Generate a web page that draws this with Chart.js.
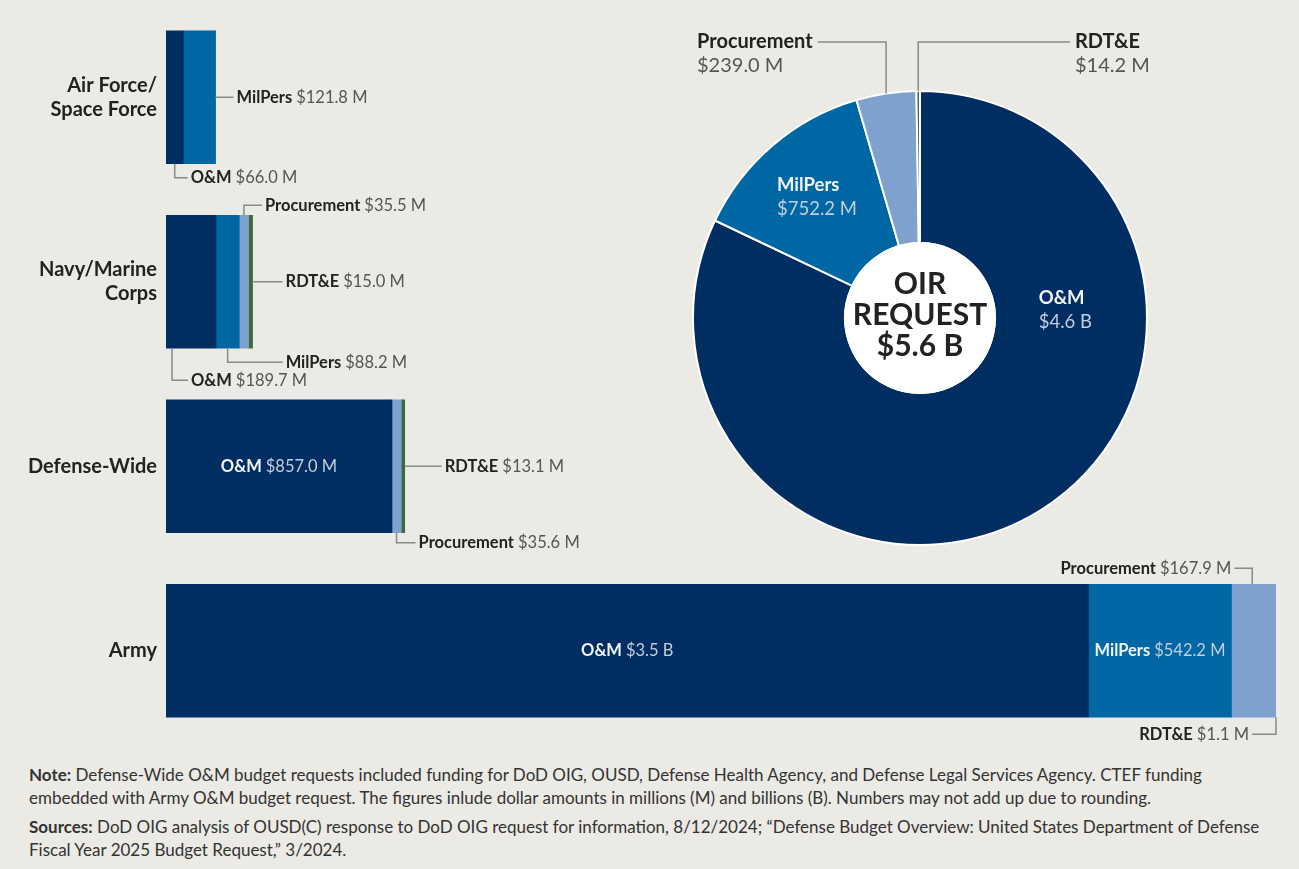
<!DOCTYPE html>
<html lang="en">
<head>
    <meta charset="UTF-8">
    <meta name="viewport" content="width=device-width, initial-scale=1.0">
    <title>OIR Budget Request by Component</title>
    <script src="https://cdn.jsdelivr.net/npm/chart.js"></script>
    <style>
        body { margin: 0; background: #ebeae4; font-family: Lato, sans-serif; }
        .page { position: relative; width: 1299px; height: 869px; overflow: hidden; }
        #barBox { position: absolute; left: 0; top: 0; width: 1299px; height: 750px; }
        #pieBox { position: absolute; left: 680px; top: 20px; width: 480px; height: 530px; }
        .notes { position: absolute; left: 29px; top: 763px; font-size: 17px; color: #333; line-height: 23px; white-space: nowrap; }
        .notes p { margin: 0 0 6px 0; }
    </style>
</head>
<body>
<div class="page">
    <div id="barBox"><canvas id="barChart"></canvas></div>
    <div id="pieBox"><canvas id="pieChart"></canvas></div>
    <div class="notes">
        <p><b>Note:</b> Defense-Wide O&amp;M budget requests included funding for DoD OIG, OUSD, Defense Health Agency, and Defense Legal Services Agency. CTEF funding<br>embedded with Army O&amp;M budget request. The figures inlude dollar amounts in millions (M) and billions (B). Numbers may not add up due to rounding.</p>
        <p><b>Sources:</b> DoD OIG analysis of OUSD(C) response to DoD OIG request for information, 8/12/2024; “Defense Budget Overview: United States Department of Defense<br>Fiscal Year 2025 Budget Request,” 3/2024.</p>
    </div>
</div>

<script>
// data (millions of dollars)
const categories = [['Air Force/', 'Space Force'], ['Navy/Marine', 'Corps'], ['Defense-Wide'], ['Army']];
const segments = ['O&M', 'MilPers', 'Procurement', 'RDT&E'];
const omValues = [66.0, 189.7, 857.0, 3500];
const milPersValues = [121.8, 88.2, 0, 542.2];
const procurementValues = [0, 35.5, 35.6, 167.9];
const rdteValues = [0, 15.0, 13.1, 1.1];

const oirSegments = ['O&M', 'MilPers', 'Procurement', 'RDT&E'];
const oirValues = [4600, 752.2, 239.0, 14.2];

const colors = ['#002d62', '#0067a5', '#7fa1cd', '#3b6b3f'];
const series = [omValues, milPersValues, procurementValues, rdteValues];

function money(v) {
    return v >= 1000 ? '$' + (v / 1000).toFixed(1) + ' B' : '$' + v.toFixed(1) + ' M';
}

// where each bar label goes: side of the segment, anchor fraction along it, elbow and run in px
const barLabels = [
    { cat: 0, ds: 0, side: 'bottom', frac: 0.5, elbow: 14, run: 13 },
    { cat: 0, ds: 1, side: 'right', run: 18 },
    { cat: 1, ds: 2, side: 'top', frac: 0.5, elbow: 10, run: 18 },
    { cat: 1, ds: 3, side: 'right', run: 30 },
    { cat: 1, ds: 1, side: 'bottom', frac: 0.5, elbow: 14, run: 55 },
    { cat: 1, ds: 0, side: 'bottom', frac: 0.12, elbow: 32, run: 16 },
    { cat: 2, ds: 0, side: 'inside' },
    { cat: 2, ds: 3, side: 'right', run: 37 },
    { cat: 2, ds: 2, side: 'bottom', frac: 0.5, elbow: 10, run: 19 },
    { cat: 3, ds: 0, side: 'inside' },
    { cat: 3, ds: 1, side: 'inside' },
    { cat: 3, ds: 2, side: 'top', frac: 0.47, elbow: 16, run: -18 },
    { cat: 3, ds: 3, side: 'bottom', frac: 1, elbow: 17, run: -24 }
];

const FONT = 'Lato, sans-serif';

// draws "Name $value" starting (or ending) at x
function nameValue(ctx, name, value, x, y, size, align, nameColor, valueColor) {
    ctx.textBaseline = 'middle';
    ctx.font = 'bold ' + size + 'px ' + FONT;
    const wName = ctx.measureText(name + ' ').width;
    ctx.font = size + 'px ' + FONT;
    const wVal = ctx.measureText(value).width;
    let start = x;
    if (align === 'right') start = x - wName - wVal;
    if (align === 'center') start = x - (wName + wVal) / 2;
    ctx.textAlign = 'left';
    ctx.font = 'bold ' + size + 'px ' + FONT;
    ctx.fillStyle = nameColor;
    ctx.fillText(name, start, y);
    ctx.font = size + 'px ' + FONT;
    ctx.fillStyle = valueColor;
    ctx.fillText(value, start + wName, y);
}

const barText = {
    id: 'barText',
    afterDatasetsDraw(chart) {
        const ctx = chart.ctx;
        const yScale = chart.scales.y;
        ctx.save();

        // category names
        ctx.fillStyle = '#222';
        ctx.font = 'bold 20px ' + FONT;
        ctx.textAlign = 'right';
        ctx.textBaseline = 'middle';
        categories.forEach((lines, i) => {
            const yc = yScale.getPixelForValue(i);
            lines.forEach((t, k) => {
                ctx.fillText(t, 157, yc + (k - (lines.length - 1) / 2) * 24);
            });
        });

        ctx.strokeStyle = '#8a8a86';
        ctx.lineWidth = 1.5;
        barLabels.forEach(l => {
            const bar = chart.getDatasetMeta(l.ds).data[l.cat];
            const left = Math.min(bar.base, bar.x), right = Math.max(bar.base, bar.x);
            const top = bar.y - bar.height / 2, bottom = bar.y + bar.height / 2;
            const name = segments[l.ds];
            const value = money(series[l.ds][l.cat]);

            if (l.side === 'inside') {
                nameValue(ctx, name, value, (left + right) / 2, bar.y, 16.5, 'center', '#f2f4f8', '#c3cedd');
                return;
            }
            let ax, ay, ey;
            if (l.side === 'right') {
                ax = right; ay = bar.y; ey = bar.y;
            } else {
                ax = left + (right - left) * l.frac;
                ay = l.side === 'top' ? top : bottom;
                ey = l.side === 'top' ? top - l.elbow : bottom + l.elbow;
            }
            ctx.beginPath();
            ctx.moveTo(ax, ay);
            ctx.lineTo(ax, ey);
            ctx.lineTo(ax + l.run, ey);
            ctx.stroke();
            const tx = l.run >= 0 ? ax + l.run + 3 : ax + l.run - 3;
            nameValue(ctx, name, value, tx, ey, 16.5, l.run >= 0 ? 'left' : 'right', '#222', '#555');
        });
        ctx.restore();
    }
};

const totals = categories.map((c, i) => series.reduce((s, arr) => s + arr[i], 0));

new Chart(document.getElementById('barChart'), {
    type: 'bar',
    data: {
        labels: categories,
        datasets: series.map((vals, i) => ({
            label: segments[i],
            data: vals,
            backgroundColor: colors[i],
            borderWidth: 0,
            barThickness: 133
        }))
    },
    options: {
        indexAxis: 'y',
        responsive: true,
        maintainAspectRatio: false,
        animation: false,
        layout: { padding: { left: 166, right: 23, top: 5, bottom: 7 } },
        scales: {
            x: { stacked: true, display: false, min: 0, max: Math.max(...totals) },
            y: { stacked: true, display: false }
        },
        plugins: { legend: { display: false }, tooltip: { enabled: false } }
    },
    plugins: [barText]
});

// label layout for the doughnut (angle in degrees from 12 o'clock, null = middle of slice)
const pieInside = [
    { index: 0, angle: 87, r: 0.7 },
    { index: 1, angle: null, r: 0.7 }
];
const pieOutside = [
    { index: 2, textX: 17, lineY: 22, side: 'left' },
    { index: 3, textX: 395, lineY: 22, side: 'right' }
];

const pieText = {
    id: 'pieText',
    afterDatasetsDraw(chart) {
        const ctx = chart.ctx;
        const arcs = chart.getDatasetMeta(0).data;
        const cx = arcs[0].x, cy = arcs[0].y;
        const R = arcs[0].outerRadius, r0 = arcs[0].innerRadius;
        ctx.save();

        // white hole + total
        ctx.fillStyle = '#ffffff';
        ctx.beginPath();
        ctx.arc(cx, cy, r0 + 1, 0, Math.PI * 2);
        ctx.fill();
        const total = oirValues.reduce((a, b) => a + b, 0);
        ctx.fillStyle = '#222';
        ctx.font = 'bold 30px ' + FONT;
        ctx.textAlign = 'center';
        ctx.textBaseline = 'middle';
        ['OIR', 'REQUEST', money(total)].forEach((t, k) => ctx.fillText(t, cx, cy - 34 + k * 31));

        const mid = a => (a.startAngle + a.endAngle) / 2;

        pieInside.forEach(l => {
            const a = arcs[l.index];
            const ang = l.angle === null ? mid(a) : (l.angle - 90) * Math.PI / 180;
            const x = cx + Math.cos(ang) * R * l.r;
            const y = cy + Math.sin(ang) * R * l.r;
            ctx.textAlign = 'left';
            ctx.font = 'bold 18.5px ' + FONT;
            ctx.fillStyle = '#f2f4f8';
            ctx.fillText(oirSegments[l.index], x - 40, y - 12);
            ctx.font = '18.5px ' + FONT;
            ctx.fillStyle = '#c3cedd';
            ctx.fillText(money(oirValues[l.index]), x - 40, y + 12);
        });

        ctx.strokeStyle = '#8a8a86';
        ctx.lineWidth = 1.5;
        pieOutside.forEach(l => {
            const a = arcs[l.index];
            const px = cx + Math.cos(mid(a)) * R;
            const py = cy + Math.sin(mid(a)) * R;
            ctx.font = 'bold 20px ' + FONT;
            const w = ctx.measureText(oirSegments[l.index]).width;
            const lineEnd = l.side === 'left' ? l.textX + w + 5 : l.textX - 5;
            ctx.beginPath();
            ctx.moveTo(lineEnd, l.lineY);
            ctx.lineTo(px, l.lineY);
            ctx.lineTo(px, py);
            ctx.stroke();
            ctx.textAlign = 'left';
            ctx.textBaseline = 'middle';
            ctx.fillStyle = '#222';
            ctx.fillText(oirSegments[l.index], l.textX, l.lineY);
            ctx.font = '20px ' + FONT;
            ctx.fillStyle = '#555';
            ctx.fillText(money(oirValues[l.index]), l.textX, l.lineY + 24);
        });
        ctx.restore();
    }
};

new Chart(document.getElementById('pieChart'), {
    type: 'doughnut',
    data: {
        labels: oirSegments,
        datasets: [{
            data: oirValues,
            backgroundColor: colors,
            borderColor: '#ffffff',
            borderWidth: 2
        }]
    },
    options: {
        responsive: true,
        maintainAspectRatio: false,
        animation: false,
        cutout: '33%',
        layout: { padding: { top: 70, bottom: 4 } },
        plugins: { legend: { display: false }, tooltip: { enabled: false } }
    },
    plugins: [pieText]
});
</script>
</body>
</html>
